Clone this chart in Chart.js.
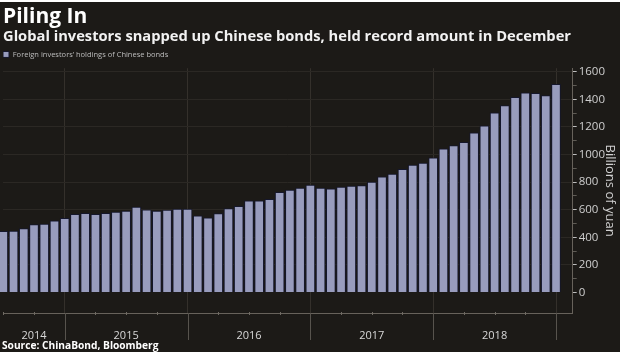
<!DOCTYPE html>
<html><head><meta charset="utf-8">
<script src="https://cdn.jsdelivr.net/npm/chart.js@4.4.1/dist/chart.umd.min.js"></script>
<style>
html,body{margin:0;padding:0;background:#ffffff;}
#wrap{position:absolute;left:0;top:2px;width:620px;height:350px;background:#1c1a17;}
canvas{display:block;}
</style></head><body>
<div id="wrap"><canvas id="c" width="620" height="350"></canvas></div>
<script>
const months = [
 'Jun 2014','Jul 2014','Aug 2014','Sep 2014','Oct 2014','Nov 2014','Dec 2014',
 'Jan 2015','Feb 2015','Mar 2015','Apr 2015','May 2015','Jun 2015','Jul 2015','Aug 2015','Sep 2015','Oct 2015','Nov 2015','Dec 2015',
 'Jan 2016','Feb 2016','Mar 2016','Apr 2016','May 2016','Jun 2016','Jul 2016','Aug 2016','Sep 2016','Oct 2016','Nov 2016','Dec 2016',
 'Jan 2017','Feb 2017','Mar 2017','Apr 2017','May 2017','Jun 2017','Jul 2017','Aug 2017','Sep 2017','Oct 2017','Nov 2017','Dec 2017',
 'Jan 2018','Feb 2018','Mar 2018','Apr 2018','May 2018','Jun 2018','Jul 2018','Aug 2018','Sep 2018','Oct 2018','Nov 2018','Dec 2018'
];
const holdings = [
 443, 445, 463, 492, 496, 520, 537,
 566, 573, 566, 573, 583, 590, 619, 600, 590, 597, 604, 604,
 555, 541, 572, 608, 624, 665, 665, 676, 726, 743, 757, 779,
 757, 752, 764, 772, 775, 801, 838, 858, 893, 923, 937, 976,
 1041, 1065, 1089, 1157, 1207, 1301, 1354, 1414, 1446, 1443, 1426, 1508
];
const yearLabels = ['2014','2015','2016','2017','2018'];
const yearLabelMonths = ['Sep 2014','Jun 2015','Jun 2016','Jun 2017','Jun 2018'];
const yearEndMonths = ['Dec 2014','Dec 2015','Dec 2016','Dec 2017','Dec 2018'];
const yTicks = [0,200,400,600,800,1000,1200,1400,1600];

const idx = m => months.indexOf(m);
const labelIdx = yearLabelMonths.map(idx);
const endIdx = yearEndMonths.map(idx);
const quarterIdx = months.map((m,i)=>/^(Mar|Jun|Sep)/.test(m)?i:-1).filter(i=>i>=0);
const minorY = [];
for (let k=0;k<yTicks.length-1;k++) minorY.push((yTicks[k]+yTicks[k+1])/2);

const marks = {
  id:'marks',
  afterDraw(chart){
    const c = chart.ctx, xs = chart.scales.x, a = chart.chartArea;
    c.save();
    c.lineWidth = 1;
    c.strokeStyle = '#57534d';
    endIdx.forEach(i=>{
      const x = Math.round(xs.getPixelForValue(i))+0.5;
      c.beginPath(); c.moveTo(x,a.bottom); c.lineTo(x,a.bottom+27); c.stroke();
    });
    c.strokeStyle = '#6f6a63';
    quarterIdx.forEach(i=>{
      const x = Math.round(xs.getPixelForValue(i))+0.5;
      c.beginPath(); c.moveTo(x,a.bottom-1); c.lineTo(x,a.bottom+2); c.stroke();
    });
    c.fillStyle = '#ffffff';
    c.font = 'bold 10.2px "Open Sans"';
    c.textBaseline = 'alphabetic';
    c.textAlign = 'left';
    c.fillText('Source: ChinaBond, Bloomberg', 2, 347);
    c.restore();
  }
};

new Chart(document.getElementById('c'), {
  type:'bar',
  data:{datasets:[{
    label:'Foreign investors\u2019 holdings of Chinese bonds',
    data: holdings.map((v,i)=>({x:i,y:v})),
    backgroundColor:'#989cbd',
    borderColor:'#15172c',
    borderWidth:1,
    barThickness:9,
    clip:false
  }]},
  options:{
    responsive:false, animation:false, devicePixelRatio:1,
    layout:{padding:{left:3,right:0,top:0,bottom:11}},
    plugins:{
      title:{display:true,text:'Piling In',align:'start',color:'#ffffff',
        font:{family:'Open Sans',size:21,weight:'bold',lineHeight:1.2},padding:{top:2.5,bottom:0}},
      subtitle:{display:true,text:'Global investors snapped up Chinese bonds, held record amount in December',
        align:'start',color:'#f2f2f2',font:{family:'Open Sans',size:14.7,weight:'bold',lineHeight:1.0},padding:{top:0,bottom:6.3}},
      legend:{display:true,position:'top',align:'start',
        labels:{boxWidth:6,boxHeight:6,padding:0,color:'#bdbdbd',font:{family:'Open Sans',size:7.5}}},
      tooltip:{enabled:false}
    },
    scales:{
      x:{type:'linear',min:-0.03,max:55.63,offset:false,
        border:{display:true,color:'#67625b',width:1},
        grid:{offset:false,drawTicks:false,lineWidth:1,
          color:c=> endIdx.includes(c.tick && c.tick.value) ? '#34302b' : 'rgba(0,0,0,0)'},
        afterBuildTicks:s=>{ s.ticks = labelIdx.concat(endIdx).sort((a,b)=>a-b).map(v=>({value:v})); },
        ticks:{autoSkip:false,maxRotation:0,padding:16,color:'#d8d8d8',
          font:{family:'Open Sans',size:11},
          callback:v=>{ const k = labelIdx.indexOf(v); return k>=0 ? yearLabels[k] : ''; }},
        afterFit:s=>{ s.height = 28; }
      },
      y:{position:'right',min:-148,max:1625,
        border:{display:true,color:'#67625b',width:1},
        afterBuildTicks:s=>{ s.ticks = yTicks.concat(minorY).sort((a,b)=>a-b).map(v=>({value:v})); },
        grid:{tickLength:4,lineWidth:1,
          color:c=> (c.tick && yTicks.includes(c.tick.value) && c.tick.value>0) ? '#2b2824' : 'rgba(0,0,0,0)',
          tickColor:c=> (c.tick && yTicks.includes(c.tick.value)) ? '#bdbdbd' : '#5f5b55'},
        ticks:{autoSkip:false,padding:2,color:'#cfcfcf',font:{family:'Open Sans',size:11.5},
          callback:v=> yTicks.includes(v) ? String(v) : ''},
        title:{display:true,text:'Billions of yuan',color:'#d0d0d0',
          font:{family:'Open Sans',size:13},padding:{top:2,bottom:0}},
        afterFit:s=>{ s.width = 47.3; }
      }
    }
  },
  plugins:[marks]
});
</script>
</body></html>
